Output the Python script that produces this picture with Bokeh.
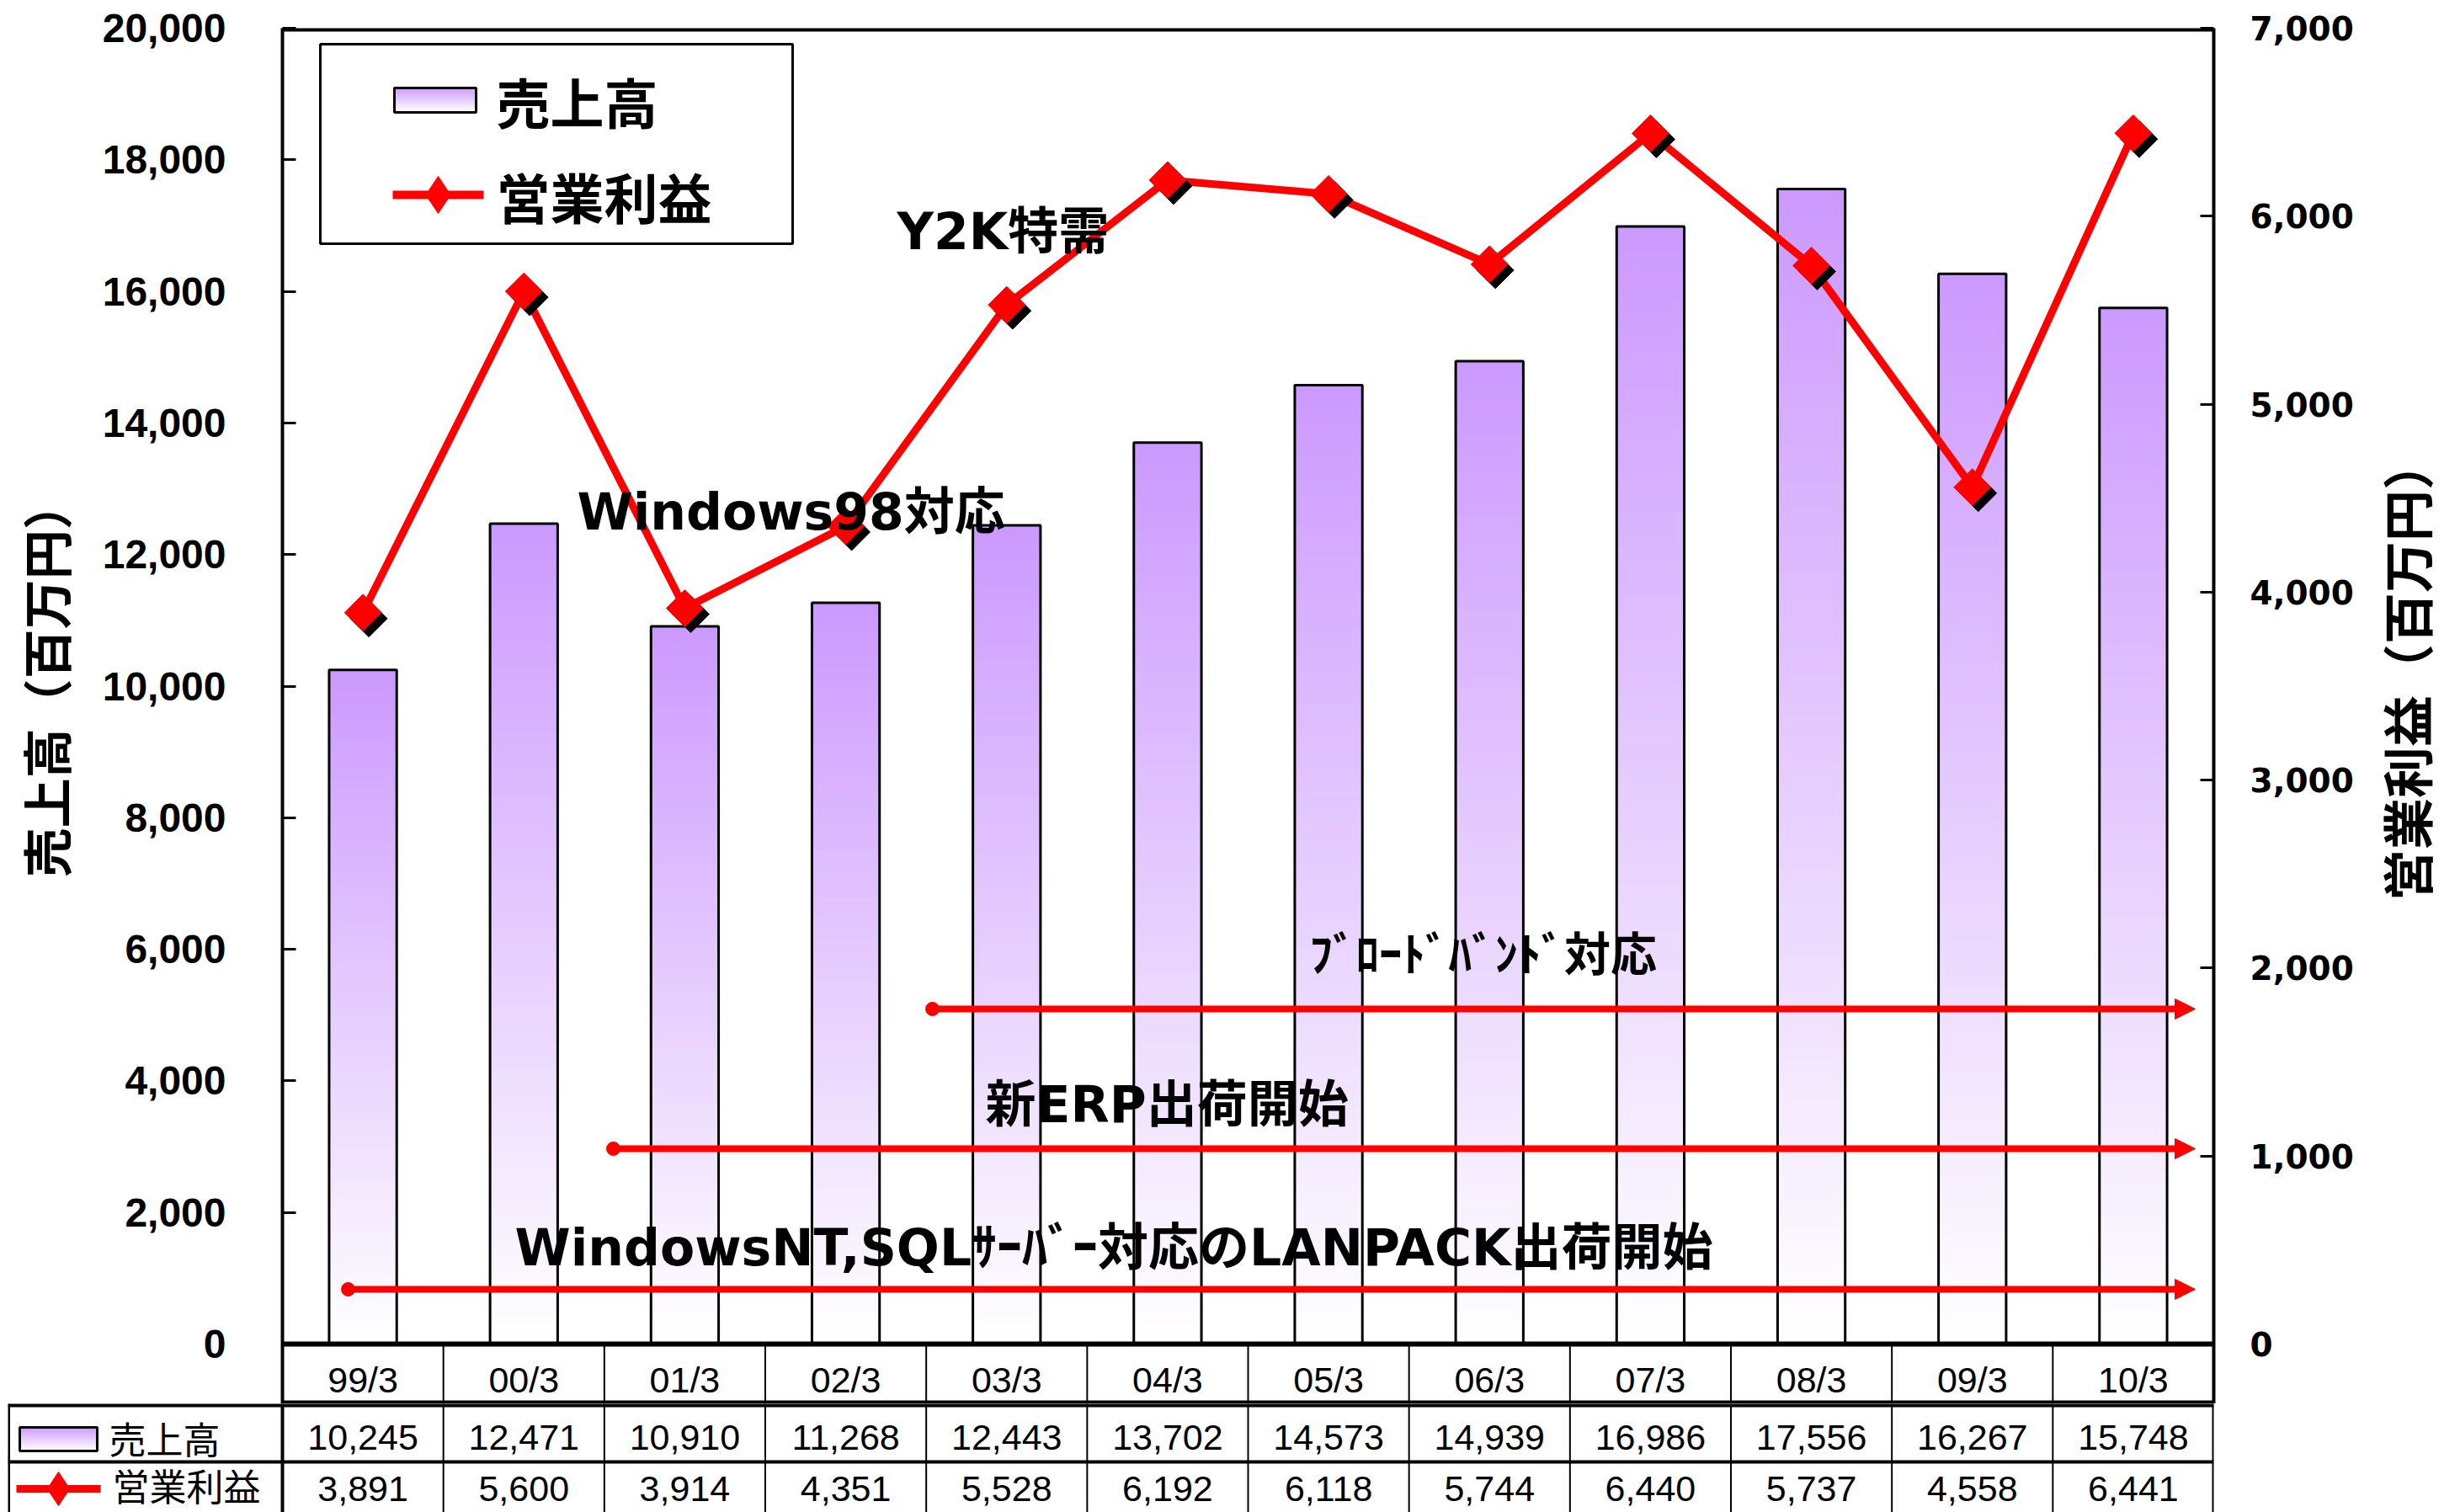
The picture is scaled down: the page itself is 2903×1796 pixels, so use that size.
import math
from bokeh.plotting import figure
from bokeh.models import (Range1d, LinearAxis, FixedTicker, NumeralTickFormatter,
                          Label, Arrow, NormalHead, ColumnDataSource)
from bokeh.layouts import column, row
from bokeh.embed import file_html
from bokeh.resources import INLINE
from bokeh.core.properties import value

# ---------------- data ----------------
categories = ["99/3", "00/3", "01/3", "02/3", "03/3", "04/3",
              "05/3", "06/3", "07/3", "08/3", "09/3", "10/3"]
sales = [10245, 12471, 10910, 11268, 12443, 13702, 14573, 14939, 16986, 17556, 16267, 15748]
profit = [3891, 5600, 3914, 4351, 5528, 6192, 6118, 5744, 6440, 5737, 4558, 6441]
sales_name = "売上高"
profit_name = "営業利益"
left_title = "売上高（百万円）"
right_title = "営業利益（百万円）"
left_ticks = [0, 2000, 4000, 6000, 8000, 10000, 12000, 14000, 16000, 18000, 20000]
right_ticks = [0, 1000, 2000, 3000, 4000, 5000, 6000, 7000]
note_y2k = "Y2K特需"
note_win98 = "Windows98対応"
note_broadband = "ﾌﾞﾛｰﾄﾞﾊﾞﾝﾄﾞ対応"
note_erp = "新ERP出荷開始"
note_lanpack = "WindowsNT,SQLｻｰﾊﾞｰ対応のLANPACK出荷開始"

# ---------------- layout helpers (page pixels -> data) ----------------
W = 2903
QW = 100                               # strip holding the right-hand axis title
FL, FR, FT, FB = 335, 2629, 33, 1596   # plot area edges (value 0 at FB) in page px
MB = 1667                              # main figure bottom (end of category row)
CW = (FR - FL) / 12.0
N = len(categories)

def X(px):
    return (px - FL) / CW

def Y(py):
    return (FB - py) * 20000.0 / (FB - FT)

def YP(py):
    return (FB - py) * 7000.0 / (FB - FT)

TOP = (204, 153, 255)

def grad_color(f):
    r = int(round(TOP[0] + (255 - TOP[0]) * f))
    g = int(round(TOP[1] + (255 - TOP[1]) * f))
    b = int(round(TOP[2] + (255 - TOP[2]) * f))
    return "#%02x%02x%02x" % (r, g, b)

JP = "Noto Sans CJK JP"
MIX = "DejaVu Sans, Noto Sans CJK JP"

# ---------------- main figure ----------------
p = figure(width=W - QW, height=MB, x_range=Range1d(0, 12), y_range=Range1d(Y(MB), 20000),
           output_backend="svg", toolbar_location=None, x_axis_location=None,
           y_axis_location="left",
           min_border_left=FL, min_border_right=W - QW - FR,
           min_border_top=FT, min_border_bottom=0)
p.extra_y_ranges = {"profit": Range1d(YP(MB), 7000)}
p.grid.visible = False
p.outline_line_color = None
p.background_fill_color = "white"
p.border_fill_color = "white"

ya = p.yaxis[0]
ya.ticker = FixedTicker(ticks=left_ticks)
ya.formatter = NumeralTickFormatter(format="0,0")
ya.major_tick_in = 16
ya.major_tick_out = 0
ya.minor_tick_in = 0
ya.minor_tick_out = 0
ya.axis_line_width = 4
ya.major_tick_line_width = 3
ya.major_label_standoff = 67
ya.major_label_text_font = "Liberation Sans"
ya.major_label_text_font_style = "bold"
ya.major_label_text_font_size = "48px"
ya.major_label_text_color = "black"
ya.axis_label = "\u3000\u2002" + left_title
ya.axis_label_text_font = JP
ya.axis_label_text_font_style = "bold"
ya.axis_label_text_font_size = "59px"
ya.axis_label_text_color = "black"
ya.axis_label_standoff = 23

ra = LinearAxis(y_range_name="profit")
ra.ticker = FixedTicker(ticks=right_ticks)
ra.formatter = NumeralTickFormatter(format="0,0")
ra.major_tick_in = 16
ra.major_tick_out = 0
ra.minor_tick_in = 0
ra.minor_tick_out = 0
ra.axis_line_width = 4
ra.major_tick_line_width = 3
ra.major_label_standoff = 43
ra.major_label_text_font = "DejaVu Sans"
ra.major_label_text_font_style = "bold"
ra.major_label_text_font_size = "39px"
ra.major_label_text_color = "black"
p.add_layout(ra, "right")

# top border
p.segment(x0=[0], y0=[20000], x1=[12], y1=[20000], line_color="black", line_width=8)

# gradient bars
NS = 90
BW = 0.42
bx, bb, bt, bc = [], [], [], []
for i, v in enumerate(sales):
    for k in range(NS):
        bx.append(i + 0.5)
        bt.append(v * (1 - k / NS))
        bb.append(v * (1 - (k + 1) / NS))
        bc.append(grad_color((k + 0.5) / NS))
p.vbar(x="x", bottom="b", top="t", width=BW, fill_color="c", line_color="c", line_width=1,
       source=ColumnDataSource(dict(x=bx, b=bb, t=bt, c=bc)))
xc = [i + 0.5 for i in range(N)]
p.vbar(x=xc, bottom=0, top=sales, width=BW, fill_color=None, line_color="black", line_width=3)

# category row of the data table (inside the main frame, below value 0)
p.segment(x0=list(range(1, 12)), y0=[0] * 11, x1=list(range(1, 12)), y1=[Y(MB)] * 11,
          line_color="black", line_width=2)
p.segment(x0=[0], y0=[0], x1=[12], y1=[0], line_color="black", line_width=6)
p.segment(x0=[0], y0=[Y(MB)], x1=[12], y1=[Y(MB)], line_color="black", line_width=8)
p.text(x=xc, y=[Y(1638)] * N, text=categories, text_font=value("Liberation Sans"),
       text_font_size="43px", text_align="center", text_baseline="middle", text_color="black")

# event arrows
arrow_specs = [(413, 1531), (728, 1364), (1107, 1198)]
for sx, sy in arrow_specs:
    p.add_layout(Arrow(x_start=X(sx), y_start=Y(sy), x_end=X(2607), y_end=Y(sy),
                       line_color="red", line_width=8,
                       end=NormalHead(size=24, fill_color="red", line_color="red")))
p.scatter(x=[X(sx) for sx, sy in arrow_specs], y=[Y(sy) for sx, sy in arrow_specs],
          marker="circle", size=16, color="red")

# profit line with shadowed diamonds
SDX = 7 / CW
SDY = 7 * 7000.0 / (FB - FT)
p.line(xc, profit, y_range_name="profit", line_color="red", line_width=9)
p.scatter([x + SDX for x in xc], [v - SDY for v in profit], y_range_name="profit",
          marker="square", angle=math.pi / 4, size=31, color="black")
p.scatter(xc, profit, y_range_name="profit",
          marker="square", angle=math.pi / 4, size=31, color="red")

# annotations
notes = [(note_y2k, 1065, 274, 60), (note_win98, 685, 607, 60), (note_broadband, 1555, 1133, 55),
         (note_erp, 1170, 1311, 60), (note_lanpack, 611, 1481, 60)]
for txt, lx, ly, fs in notes:
    p.add_layout(Label(x=X(lx), y=Y(ly), text=txt, text_font=MIX, text_font_style="bold",
                       text_font_size=f"{fs}px", text_baseline="middle", text_align="left",
                       text_color="black"))

# legend box
p.quad(left=[X(380)], right=[X(941)], top=[Y(52)], bottom=[Y(289)],
       fill_color="white", line_color="black", line_width=3)
lg_x, lg_b, lg_t, lg_c = [], [], [], []
for k in range(20):
    lg_x.append(X(516.5))
    lg_t.append(Y(104 + 29 * k / 20))
    lg_b.append(Y(104 + 29 * (k + 1) / 20))
    lg_c.append(grad_color((k + 0.5) / 20))
p.vbar(x="x", bottom="b", top="t", width=X(565) - X(468), fill_color="c", line_color="c",
       source=ColumnDataSource(dict(x=lg_x, b=lg_b, t=lg_t, c=lg_c)))
p.quad(left=[X(468)], right=[X(565)], top=[Y(104)], bottom=[Y(133)],
       fill_color=None, line_color="black", line_width=3)
p.segment(x0=[X(466)], y0=[Y(231)], x1=[X(574)], y1=[Y(231)], line_color="red", line_width=10)
p.scatter([X(520)], [Y(231)], marker="diamond", size=44, color="red")
p.add_layout(Label(x=X(589), y=Y(118), text=sales_name, text_font=JP, text_font_style="bold",
                   text_font_size="64px", text_baseline="middle", text_color="black"))
p.add_layout(Label(x=X(589), y=Y(231), text=profit_name, text_font=JP, text_font_style="bold",
                   text_font_size="64px", text_baseline="middle", text_color="black"))

# ---------------- strip with the right-hand axis title ----------------
QT, QB = 33, 1557   # vertical span whose centre the title is centred on
q = figure(width=QW, height=MB, x_range=Range1d(0, 1), y_range=Range1d(0, 1),
           output_backend="svg", toolbar_location=None, x_axis_location=None,
           y_axis_location="left", min_border_left=QW - 2, min_border_right=0,
           min_border_top=QT, min_border_bottom=MB - QB)
q.grid.visible = False
q.outline_line_color = None
q.background_fill_color = "white"
q.border_fill_color = "white"
qa = q.yaxis[0]
qa.ticker = FixedTicker(ticks=[])
qa.major_tick_in = 0
qa.major_tick_out = 0
qa.minor_tick_in = 0
qa.minor_tick_out = 0
qa.axis_line_color = None
qa.axis_label = right_title
qa.axis_label_text_font = JP
qa.axis_label_text_font_style = "bold"
qa.axis_label_text_font_size = "61px"
qa.axis_label_text_color = "black"
qa.axis_label_standoff = 0

# ---------------- data table figure ----------------
TT, TB = MB, 1796
t = figure(width=W, height=TB - TT, x_range=Range1d(X(9), 12), y_range=Range1d(TB, TT),
           output_backend="svg", toolbar_location=None, x_axis_location=None,
           y_axis_location=None, min_border_left=9, min_border_right=W - FR,
           min_border_top=0, min_border_bottom=0)
t.grid.visible = False
t.outline_line_color = None
t.background_fill_color = "white"
t.border_fill_color = "white"

for fig in (p, q, t):
    if "frame_align" in fig.properties():
        fig.frame_align = False

R1, R2 = 1667, 1736
t.segment(x0=[X(9)], y0=[R1], x1=[12], y1=[R1], line_color="black", line_width=8)
t.segment(x0=[X(9)], y0=[R2], x1=[12], y1=[R2], line_color="black", line_width=4)
t.segment(x0=[X(10)], y0=[R1], x1=[X(10)], y1=[TB], line_color="black", line_width=3)
t.segment(x0=[0, 12], y0=[TT, TT], x1=[0, 12], y1=[TB, TB], line_color="black", line_width=4)
t.segment(x0=list(range(1, 12)), y0=[TT] * 11, x1=list(range(1, 12)), y1=[TB] * 11,
          line_color="black", line_width=2)

t.text(x=xc, y=[1707] * N, text=[f"{v:,}" for v in sales], text_font=value("Liberation Sans"),
       text_font_size="43px", text_align="center", text_baseline="middle", text_color="black")
t.text(x=xc, y=[1768] * N, text=[f"{v:,}" for v in profit], text_font=value("Liberation Sans"),
       text_font_size="43px", text_align="center", text_baseline="middle", text_color="black")

# row legends
tg_x, tg_b, tg_t, tg_c = [], [], [], []
for k in range(16):
    tg_x.append(X(69))
    tg_t.append(1695 + 28 * k / 16)
    tg_b.append(1695 + 28 * (k + 1) / 16)
    tg_c.append(grad_color((k + 0.5) / 16))
t.vbar(x="x", bottom="b", top="t", width=X(115) - X(23), fill_color="c", line_color="c",
       source=ColumnDataSource(dict(x=tg_x, b=tg_b, t=tg_t, c=tg_c)))
t.quad(left=[X(23)], right=[X(115)], top=[1695], bottom=[1723],
       fill_color=None, line_color="black", line_width=3)
t.segment(x0=[X(19)], y0=[1768], x1=[X(119)], y1=[1768], line_color="red", line_width=9)
t.scatter([X(69)], [1768], marker="diamond", size=40, color="red")
t.text(x=[X(129), X(133)], y=[1707, 1763], text=[sales_name, profit_name],
       text_font=value(JP), text_font_size="44px", text_align="left",
       text_baseline="middle", text_color="black")

layout = column(row(p, q, spacing=0), t, spacing=0)
open("out.html", "w").write(file_html(layout, INLINE))
